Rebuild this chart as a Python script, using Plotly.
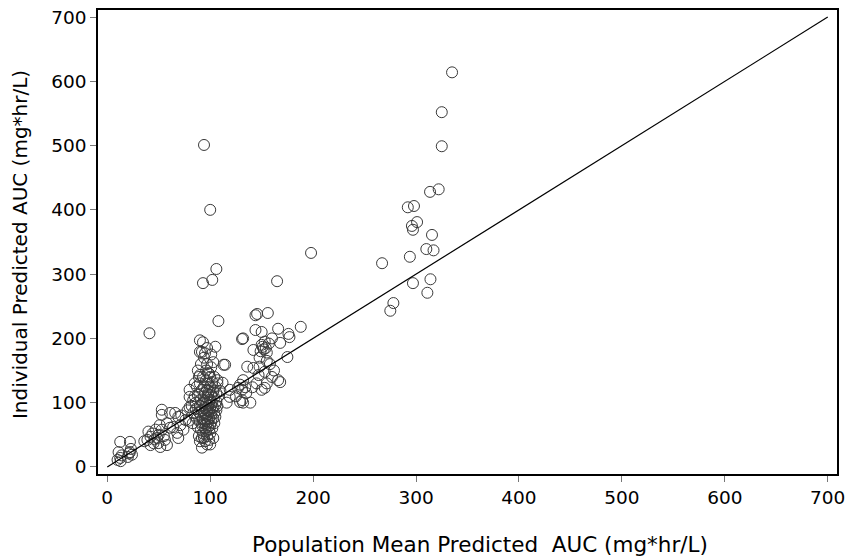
import plotly.graph_objects as go

# ---- data (population mean predicted AUC, individual predicted AUC) ----
pop_auc = [
    # low group
    10, 11, 12.6, 12.6, 14, 20, 22, 22, 24, 21, 13, 23,
    # 38-60
    39, 42, 42, 45, 47, 48.5, 49.5, 51, 51.5, 53, 53, 53, 58, 58, 44, 46, 50, 55, 36, 40, 56, 41,
    # 60-85
    61, 61, 64, 66, 68, 69, 69, 71, 76, 80, 85, 78, 74, 82, 83, 79, 72, 80, 83.5, 80, 83.5,
    # dense cluster 85-108
    86, 87, 88, 88, 89, 89, 90, 90, 90, 91, 91, 91, 92, 92, 92, 92, 93, 93, 93, 93, 93,
    94, 94, 94, 94, 94, 95, 95, 95, 95, 95, 95, 95, 96, 96, 96, 96, 96, 96, 97, 97, 97,
    97, 97, 97, 98, 98, 98, 98, 98, 98, 99, 99, 99, 99, 99, 99, 100, 100, 100, 100, 100,
    100, 101, 101, 101, 101, 101, 102, 102, 102, 102, 103, 103, 103, 103, 104, 104, 104,
    104, 105, 105, 105, 105, 106, 106, 106, 107, 107, 108, 108, 92, 93, 94, 100, 102, 106,
    89, 91, 88, 87, 86, 85, 85, 90, 92, 97, 99, 94, 97, 101, 103, 100, 90, 90, 98, 90, 107,
    # 110-145
    113, 114.5, 112, 119, 119, 110, 116, 127, 131, 129, 131, 132, 139, 141, 134, 129, 132,
    136, 131, 132, 142, 144, 135, 125,
    # 140-200
    144, 145.6, 150, 156, 142, 147, 148, 153, 153, 151, 152, 150, 154, 153, 149, 155, 157,
    166, 168, 175, 176, 177, 188, 166, 168, 165, 198, 160, 158, 162, 145, 155, 148, 160,
    155, 150,
    # upper right group
    267, 275, 278, 292, 298, 294, 296, 297, 301, 297, 310, 317, 315.5, 314, 311, 313.6,
    322, 325, 325, 335,
]

ind_auc = [
    # low group
    11, 23, 14, 39, 18, 15.5, 23, 39, 19, 21, 9, 28,
    # 38-60
    42, 47, 34, 37, 58, 45, 37, 65, 31, 58, 89, 81, 34, 68, 52, 43, 50, 48, 40, 55, 42, 208,
    # 60-85
    61, 84, 62, 84, 53, 78, 45, 65, 73, 109, 130, 88, 58, 95, 68, 72, 80, 120, 104, 93, 84,
    # dense cluster 85-108
    100, 75, 62, 112, 85, 48, 95, 70, 130, 58, 105, 80, 30, 120, 65, 88, 194, 140, 75, 52, 100,
    110, 68, 83, 45, 125, 177, 60, 92, 72, 115, 102, 40, 135, 80, 55, 98, 150, 66, 108, 88, 120,
    74, 48, 160, 62, 95, 82, 112, 130, 70, 100, 58, 145, 86, 118, 76, 90, 65, 125, 105, 52,
    140, 80, 96, 112, 70, 155, 60, 88, 132, 100, 163, 76, 118, 92, 108, 84, 68,
    140, 187, 96, 125, 78, 102, 115, 88, 130, 95, 110, 227, 179, 286, 501, 400, 291, 308,
    140, 160, 150, 125, 90, 80, 110, 40, 45, 35, 42, 170, 185, 175, 45, 35, 197, 179, 146, 143, 135,
    # 110-145
    159, 159, 131, 120, 109, 118, 100, 123, 120, 101, 104, 100, 100, 124, 124, 128, 135,
    156, 199, 200, 182, 236, 115, 110,
    # 140-200
    213, 238, 210, 239.5, 154, 143, 156, 148, 123, 187, 183, 190, 185, 195, 180, 178, 192,
    215, 193, 171, 207, 202, 218, 135, 132, 289, 333, 140, 160, 150, 130, 165, 170, 200,
    130, 120,
    # upper right group
    317, 243, 255, 404, 406, 327, 375, 369, 381, 286, 339, 337, 361, 292, 271, 428,
    432, 499, 552, 614,
]

identity_line = [0, 700]

x_ticks = [0, 100, 200, 300, 400, 500, 600, 700]
y_ticks = [0, 100, 200, 300, 400, 500, 600, 700]

x_title = "Population Mean Predicted\u00a0 AUC (mg*hr/L)"
y_title = "Individual Predicted AUC (mg*hr/L)"

FONT = "DejaVu Sans"

fig = go.Figure()
fig.add_trace(go.Scatter(
    x=pop_auc, y=ind_auc, mode="markers",
    marker=dict(symbol="circle-open", size=11, color="#3a3a3a", line=dict(width=1)),
    showlegend=False, hoverinfo="x+y",
))
fig.add_trace(go.Scatter(
    x=identity_line, y=identity_line, mode="lines",
    line=dict(color="black", width=1.2), showlegend=False, hoverinfo="skip",
))

axis_common = dict(
    showgrid=False, zeroline=False, showline=True, linecolor="black", linewidth=1.5,
    mirror=True, ticks="outside", ticklen=6, tickwidth=1, tickcolor="#777777",
    tickfont=dict(family=FONT, size=18.5, color="black"), automargin=False,
)

fig.update_layout(
    width=848, height=559,
    margin=dict(l=98, r=11, t=10, b=85),
    paper_bgcolor="white", plot_bgcolor="white",
    font=dict(family=FONT, color="black"),
    xaxis=dict(range=[-9, 709], tickvals=x_ticks, **axis_common),
    yaxis=dict(range=[-11, 711], tickvals=y_ticks, **axis_common),
    annotations=[
        dict(text=x_title, xref="paper", yref="paper", x=0.517, y=-0.153,
             xanchor="center", yanchor="middle", showarrow=False,
             font=dict(family=FONT, size=21.5, color="black")),
        dict(text=y_title, xref="paper", yref="paper", x=-0.1055, y=0.4935,
             xanchor="center", yanchor="middle", showarrow=False, textangle=-90,
             font=dict(family=FONT, size=20, color="black")),
    ],
)

fig.write_html(
    "out.html",
    config={"displayModeBar": False},
    post_script="document.body.style.margin='0';document.body.style.overflow='hidden';",
)
